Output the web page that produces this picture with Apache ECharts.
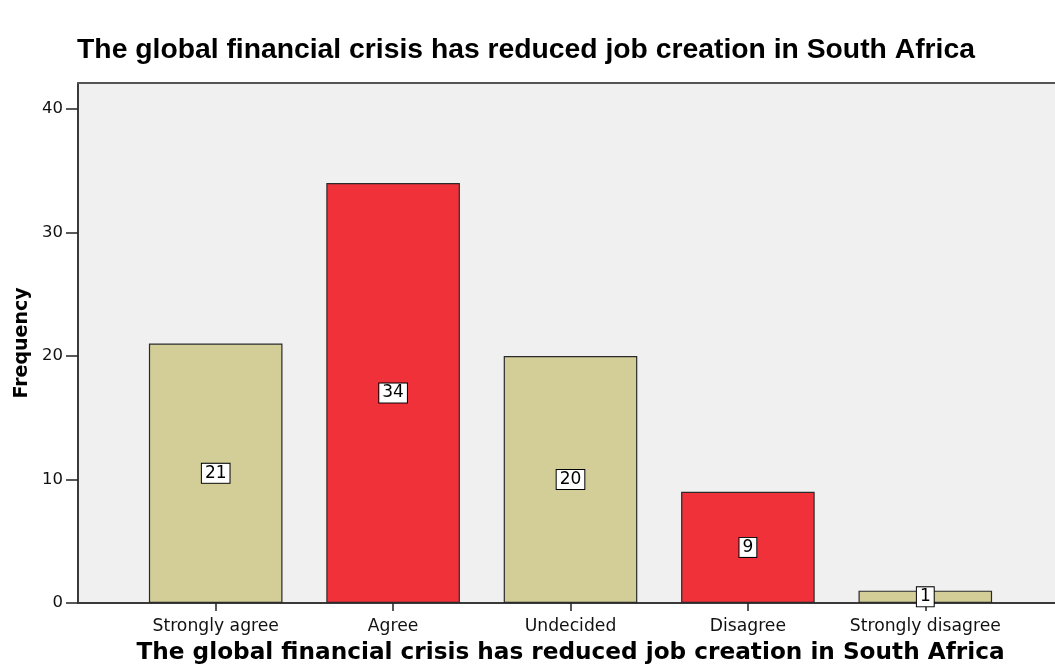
<!DOCTYPE html>
<html>
<head>
<meta charset="utf-8">
<script src="https://cdn.jsdelivr.net/npm/echarts@6/dist/echarts.min.js"></script>
<style>
  html, body { margin: 0; padding: 0; background: #ffffff; }
  #chart { width: 1055px; height: 671px; }
</style>
</head>
<body>
<div id="chart"></div>
<script>
// Response categories and their frequencies
const categories = ['Strongly agree', 'Agree', 'Undecided', 'Disagree', 'Strongly disagree'];
const frequencies = [21, 34, 20, 9, 1];
const barColors = ['#d3ce98', '#f0313a', '#d3ce98', '#f0313a', '#d3ce98'];
const yTicks = [0, 10, 20, 30, 40];
const titleText = 'The global financial crisis has reduced job creation in South Africa';

const chart = echarts.init(document.getElementById('chart'), null, { renderer: 'canvas' });

const PLOT_TOP = 83;
const PLOT_BOTTOM = 68;
const Y_MAX = 42.1;

const option = {
  animation: false,
  backgroundColor: '#ffffff',
  title: {
    text: titleText,
    left: 521,
    top: 31,
    textAlign: 'center',
    textStyle: { fontFamily: 'Liberation Sans', fontWeight: 'bold', fontSize: 28.3, color: '#000' }
  },
  grid: [
    // frame of the plot area (background, axis lines)
    { left: 78, right: 0, top: PLOT_TOP, bottom: PLOT_BOTTOM, show: true, backgroundColor: '#f0f0f0', borderWidth: 0, containLabel: false, outerBoundsMode: 'none' },
    // band holding the category slots
    { left: 127, right: 41, top: PLOT_TOP, bottom: PLOT_BOTTOM, containLabel: false, outerBoundsMode: 'none' }
  ],
  xAxis: [
    {
      gridIndex: 0, type: 'value', min: 0, max: 1, position: 'bottom',
      axisLine: { show: true, lineStyle: { color: '#3a3a3a', width: 2 } },
      axisTick: { show: false }, axisLabel: { show: false }, splitLine: { show: false }
    },
    {
      gridIndex: 0, type: 'value', min: 0, max: 1, position: 'top',
      axisLine: { show: true, lineStyle: { color: '#555555', width: 2 } },
      axisTick: { show: false }, axisLabel: { show: false }, splitLine: { show: false }
    },
    {
      gridIndex: 1, type: 'category', data: categories, position: 'bottom',
      axisLine: { show: false },
      axisTick: { show: true, alignWithLabel: true, length: 8, lineStyle: { color: '#222', width: 1.5 } },
      axisLabel: { interval: 0, fontFamily: 'DejaVu Sans', fontSize: 17.2, color: '#111', margin: 15 },
      name: titleText,
      nameLocation: 'middle',
      nameGap: 38,
      nameTextStyle: { fontFamily: 'DejaVu Sans', fontWeight: 'bold', fontSize: 23.2, color: '#000' }
    }
  ],
  yAxis: [
    {
      gridIndex: 0, type: 'value', min: 0, max: Y_MAX,
      axisLine: { show: true, lineStyle: { color: '#3a3a3a', width: 2 } },
      axisTick: { show: true, length: 12, customValues: yTicks, lineStyle: { color: '#222', width: 1.5 } },
      axisLabel: { customValues: yTicks, fontFamily: 'DejaVu Sans', fontSize: 16.5, color: '#111', margin: 15 },
      splitLine: { show: false },
      name: 'Frequency',
      nameLocation: 'middle',
      nameGap: 45,
      nameTextStyle: { fontFamily: 'DejaVu Sans', fontWeight: 'bold', fontSize: 19, color: '#000' }
    },
    {
      gridIndex: 1, type: 'value', min: 0, max: Y_MAX, show: false
    }
  ],
  series: [
    {
      type: 'bar',
      xAxisIndex: 2,
      yAxisIndex: 1,
      barCategoryGap: '24.7%',
      data: frequencies.map((v, i) => ({ value: v, itemStyle: { color: barColors[i] } })),
      itemStyle: { borderColor: '#2a2a2a', borderWidth: 1.2 },
      label: {
        show: true,
        position: 'inside',
        fontFamily: 'DejaVu Sans',
        fontSize: 17,
        color: '#000',
        backgroundColor: '#ffffff',
        borderColor: '#000000',
        borderWidth: 1,
        padding: [1, 3, 1, 3],
        lineHeight: 17
      }
    }
  ]
};

chart.setOption(option);
</script>
</body>
</html>
